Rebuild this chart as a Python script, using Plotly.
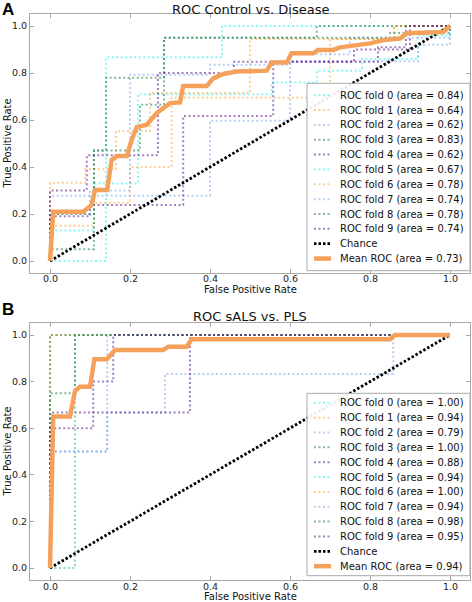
import plotly.graph_objects as go

# ---------------- data: panel A (ROC Control vs. Disease) ----------------
a_fold0_fpr = [0, 0, 0.11, 0.11, 0.14, 0.14, 0.43, 0.43, 1.0]
a_fold0_tpr = [0, 0.13, 0.13, 0.33, 0.33, 0.867, 0.867, 1.0, 1.0]
a_fold1_fpr = [0, 0, 0.11, 0.11, 0.2, 0.2, 0.304, 0.304, 0.7, 0.7, 0.86, 0.86, 1.0]
a_fold1_tpr = [0, 0.15, 0.15, 0.248, 0.248, 0.4, 0.4, 0.695, 0.695, 0.945, 0.945, 1.0, 1.0]
a_fold2_fpr = [0, 0, 0.4, 0.4, 0.6, 0.6, 0.92, 0.92, 1.0, 1.0]
a_fold2_tpr = [0, 0.278, 0.278, 0.597, 0.597, 0.85, 0.85, 0.92, 0.92, 1.0]
a_fold3_fpr = [0, 0, 0.11, 0.11, 0.14, 0.14, 0.285, 0.285, 0.667, 0.667, 1.0]
a_fold3_tpr = [0, 0.05, 0.05, 0.47, 0.47, 0.78, 0.78, 0.95, 0.95, 1.0, 1.0]
a_fold4_fpr = [0, 0, 0.1, 0.1, 0.333, 0.333, 0.558, 0.558, 0.82, 0.82, 0.89, 0.89, 1.0]
a_fold4_tpr = [0, 0.19, 0.19, 0.238, 0.238, 0.617, 0.617, 0.848, 0.848, 0.91, 0.91, 1.0, 1.0]
a_fold5_fpr = [0, 0.14, 0.14, 0.22, 0.22, 0.554, 0.554, 0.667, 0.667, 0.78, 0.78, 0.92, 0.92, 1.0, 1.0]
a_fold5_tpr = [0, 0, 0.33, 0.33, 0.71, 0.71, 0.76, 0.76, 0.81, 0.81, 0.86, 0.86, 0.96, 0.96, 1.0]
a_fold6_fpr = [0, 0, 0.0875, 0.0875, 0.165, 0.165, 0.25, 0.25, 0.5, 0.5, 0.86, 0.86, 1.0]
a_fold6_tpr = [0, 0.333, 0.333, 0.39, 0.39, 0.553, 0.553, 0.715, 0.715, 0.945, 0.945, 1.0, 1.0]
a_fold7_fpr = [0, 0, 0.1, 0.1, 0.2, 0.2, 0.4, 0.4, 0.6, 0.6, 0.75, 0.75, 1.0, 1.0]
a_fold7_tpr = [0, 0.2, 0.2, 0.3, 0.3, 0.793, 0.793, 0.835, 0.835, 0.88, 0.88, 0.95, 0.95, 1.0]
a_fold8_fpr = [0, 0, 0.11, 0.11, 0.225, 0.225, 0.285, 0.285, 0.85, 0.85, 1.0, 1.0]
a_fold8_tpr = [0, 0.2, 0.2, 0.47, 0.47, 0.665, 0.665, 0.95, 0.95, 0.97, 0.97, 1.0]
a_fold9_fpr = [0, 0, 0.092, 0.092, 0.27, 0.27, 0.46, 0.46, 0.76, 0.76, 0.9, 0.9, 1.0]
a_fold9_tpr = [0, 0.3, 0.3, 0.45, 0.45, 0.8, 0.8, 0.848, 0.848, 0.9, 0.9, 1.0, 1.0]
a_auc = [0.84, 0.64, 0.62, 0.83, 0.62, 0.67, 0.78, 0.74, 0.78, 0.74]
a_mean_auc = 0.73
a_mean_fpr = [0, 0.008, 0.083, 0.104, 0.1125, 0.143, 0.154, 0.167, 0.192, 0.204,
              0.217, 0.242, 0.267, 0.3, 0.325, 0.333, 0.392, 0.408, 0.433, 0.467,
              0.542, 0.554, 0.592, 0.604, 0.658, 0.67, 0.708, 0.725, 0.8, 0.833,
              0.875, 0.892, 0.983, 1.0]
a_mean_tpr = [0, 0.21, 0.21, 0.238, 0.302, 0.302, 0.43, 0.447, 0.447, 0.515,
              0.57, 0.58, 0.63, 0.672, 0.675, 0.745, 0.745, 0.777, 0.796, 0.806,
              0.81, 0.845, 0.845, 0.884, 0.884, 0.898, 0.898, 0.909, 0.926, 0.94,
              0.947, 0.969, 0.974, 1.0]

# ---------------- data: panel B (ROC sALS vs. PLS) ----------------
b_fold0_fpr = [0, 0, 1.0]
b_fold0_tpr = [0, 1.0, 1.0]
b_fold1_fpr = [0, 0.0625, 0.0625, 1.0]
b_fold1_tpr = [0, 0, 1.0, 1.0]
b_fold2_fpr = [0, 0, 0.143, 0.143, 0.2875, 0.2875, 0.858, 0.858, 1.0]
b_fold2_tpr = [0, 0.5, 0.5, 0.667, 0.667, 0.833, 0.833, 1.0, 1.0]
b_fold3_fpr = [0, 0, 1.0]
b_fold3_tpr = [0, 1.0, 1.0]
b_fold4_fpr = [0, 0, 0.35, 0.35, 1.0]
b_fold4_tpr = [0, 0.667, 0.667, 1.0, 1.0]
b_fold5_fpr = [0, 0.0625, 0.0625, 1.0]
b_fold5_tpr = [0, 0, 1.0, 1.0]
b_fold6_fpr = [0, 0, 1.0]
b_fold6_tpr = [0, 1.0, 1.0]
b_fold7_fpr = [0, 0, 0.143, 0.143, 1.0]
b_fold7_tpr = [0, 0.5, 0.5, 1.0, 1.0]
b_fold8_fpr = [0, 0, 0.0625, 0.0625, 1.0]
b_fold8_tpr = [0, 0.75, 0.75, 1.0, 1.0]
b_fold9_fpr = [0, 0, 0.108, 0.108, 0.158, 0.158, 1.0]
b_fold9_tpr = [0, 0.6, 0.6, 0.8, 0.8, 1.0, 1.0]
b_auc = [1.00, 0.94, 0.79, 1.00, 0.88, 0.94, 1.00, 0.94, 0.98, 0.95]
b_mean_auc = 0.94
b_mean_fpr = [0, 0.008, 0.05, 0.0625, 0.075, 0.1, 0.111, 0.142, 0.1625, 0.283,
              0.296, 0.342, 0.354, 0.85, 0.8625, 1.0]
b_mean_tpr = [0, 0.65, 0.65, 0.76, 0.778, 0.778, 0.896, 0.896, 0.936, 0.936,
              0.95, 0.95, 0.982, 0.982, 1.0, 1.0]

chance_x = [0, 1]
chance_y = [0, 1]
tick_vals = [0.0, 0.2, 0.4, 0.6, 0.8, 1.0]
tick_text = ["0.0", "0.2", "0.4", "0.6", "0.8", "1.0"]
titles = ["ROC Control vs. Disease", "ROC sALS vs. PLS"]
panel_letters = ["A", "B"]

# ---------------- styling ----------------
fold_colors = ["rgba(0,235,235,0.45)", "rgba(255,140,0,0.42)", "rgba(100,149,237,0.45)",
               "rgba(46,139,87,0.6)", "rgba(75,0,130,0.5)"]
mean_color = "#F5A05B"
FONT = "DejaVu Sans"
W, H = 472, 602


def px(x):
    return x / W


def py(y):
    return 1 - y / H


a_folds = [(a_fold0_fpr, a_fold0_tpr), (a_fold1_fpr, a_fold1_tpr), (a_fold2_fpr, a_fold2_tpr),
           (a_fold3_fpr, a_fold3_tpr), (a_fold4_fpr, a_fold4_tpr), (a_fold5_fpr, a_fold5_tpr),
           (a_fold6_fpr, a_fold6_tpr), (a_fold7_fpr, a_fold7_tpr), (a_fold8_fpr, a_fold8_tpr),
           (a_fold9_fpr, a_fold9_tpr)]
b_folds = [(b_fold0_fpr, b_fold0_tpr), (b_fold1_fpr, b_fold1_tpr), (b_fold2_fpr, b_fold2_tpr),
           (b_fold3_fpr, b_fold3_tpr), (b_fold4_fpr, b_fold4_tpr), (b_fold5_fpr, b_fold5_tpr),
           (b_fold6_fpr, b_fold6_tpr), (b_fold7_fpr, b_fold7_tpr), (b_fold8_fpr, b_fold8_tpr),
           (b_fold9_fpr, b_fold9_tpr)]

fig = go.Figure()

panels = [
    dict(folds=a_folds, auc=a_auc, mfpr=a_mean_fpr, mtpr=a_mean_tpr, mauc=a_mean_auc,
         xa="x", ya="y", top=14.25, bottom=272.75, leg_top=83.3, leg_bot=270.7, row0=95.2,
         title_y=10, xlabel_y=289, xtick_y=278.5, letter_y=10),
    dict(folds=b_folds, auc=b_auc, mfpr=b_mean_fpr, mtpr=b_mean_tpr, mauc=b_mean_auc,
         xa="x2", ya="y2", top=323.35, bottom=579.65, leg_top=393.3, leg_bot=575.7, row0=402.8,
         title_y=317, xlabel_y=596.5, xtick_y=586, letter_y=309),
]

shapes = []
annotations = []
ROW = 14.85

for pi, p in enumerate(panels):
    for i, (f, t) in enumerate(p["folds"]):
        fig.add_trace(go.Scatter(x=f, y=t, mode="lines", xaxis=p["xa"], yaxis=p["ya"],
                                 line=dict(color=fold_colors[i % 5], width=2, dash="2px,2.5px"),
                                 name="ROC fold %d (area = %.2f)" % (i, p["auc"][i]),
                                 showlegend=False, hoverinfo="skip"))
    fig.add_trace(go.Scatter(x=chance_x, y=chance_y, mode="lines", xaxis=p["xa"], yaxis=p["ya"],
                             line=dict(color="black", width=2.8, dash="2.5px,2px"),
                             name="Chance", showlegend=False, hoverinfo="skip"))
    fig.add_trace(go.Scatter(x=p["mfpr"], y=p["mtpr"], mode="lines", xaxis=p["xa"], yaxis=p["ya"],
                             line=dict(color=mean_color, width=4.5),
                             name="Mean ROC (area = %.2f)" % p["mauc"], showlegend=False,
                             hoverinfo="skip"))

    # x tick labels (placed through the x axis scale, tight under the frame)
    for v, s in zip(tick_vals, tick_text):
        annotations.append(dict(text=s, xref=p["xa"], yref="paper", x=v, y=py(p["xtick_y"]),
                                xanchor="center", yanchor="middle", showarrow=False,
                                font=dict(family=FONT, size=9.5, color="#222")))

    # legend box
    shapes.append(dict(type="rect", xref="paper", yref="paper", layer="above",
                       x0=px(307), x1=px(470), y0=py(p["leg_bot"]), y1=py(p["leg_top"]),
                       fillcolor="rgba(255,255,255,0.92)", line=dict(color="#a8a8a8", width=1)))
    labels = ["ROC fold %d (area = %.2f)" % (i, p["auc"][i]) for i in range(10)]
    labels += ["Chance", "Mean ROC (area = %.2f)" % p["mauc"]]
    for k, lab in enumerate(labels):
        yy = p["row0"] + k * ROW
        if k < 10:
            ln = dict(color=fold_colors[k % 5], width=2, dash="2px,2.5px")
        elif k == 10:
            ln = dict(color="black", width=2.8, dash="2.5px,2px")
        else:
            ln = dict(color=mean_color, width=4.5)
        shapes.append(dict(type="line", xref="paper", yref="paper", layer="above",
                           x0=px(314), x1=px(331), y0=py(yy), y1=py(yy), line=ln))
        annotations.append(dict(text=lab, xref="paper", yref="paper", x=px(338), y=py(yy),
                                xanchor="left", yanchor="middle", showarrow=False,
                                font=dict(family=FONT, size=10, color="#111")))

    # title, axis labels, panel letter
    annotations.append(dict(text=titles[pi], xref="paper", yref="paper", x=px(250),
                            y=py(p["title_y"]), xanchor="center", yanchor="middle",
                            showarrow=False, font=dict(family=FONT, size=13, color="#111")))
    annotations.append(dict(text="False Positive Rate", xref="paper", yref="paper", x=px(250),
                            y=py(p["xlabel_y"]), xanchor="center", yanchor="middle",
                            showarrow=False, font=dict(family=FONT, size=10, color="#111")))
    annotations.append(dict(text="True Positive Rate", xref="paper", yref="paper", x=px(7),
                            y=py((p["top"] + p["bottom"]) / 2), xanchor="center", yanchor="middle",
                            textangle=-90, showarrow=False,
                            font=dict(family=FONT, size=10, color="#111")))
    annotations.append(dict(text="<b>%s</b>" % panel_letters[pi], xref="paper", yref="paper",
                            x=px(0), y=py(p["letter_y"]), xanchor="left", yanchor="middle",
                            showarrow=False,
                            font=dict(family="Liberation Sans", size=17, color="black")))

axis_common = dict(range=[-0.05, 1.05], showgrid=False, zeroline=False, showline=True,
                   linecolor="#a8a8a8", linewidth=1, mirror="ticks", ticks="inside",
                   ticklen=4, tickcolor="#a8a8a8", tickvals=tick_vals, ticktext=tick_text,
                   tickfont=dict(family=FONT, size=9.5, color="#222"))

xdom = [px(30), px(470)]
fig.update_layout(
    width=W, height=H, margin=dict(l=0, r=0, t=0, b=0),
    paper_bgcolor="white", plot_bgcolor="white", showlegend=False,
    xaxis=dict(domain=xdom, anchor="y", showticklabels=False, **axis_common),
    yaxis=dict(domain=[py(panels[0]["bottom"]), py(panels[0]["top"])], anchor="x", **axis_common),
    xaxis2=dict(domain=xdom, anchor="y2", showticklabels=False, **axis_common),
    yaxis2=dict(domain=[py(panels[1]["bottom"]), py(panels[1]["top"])], anchor="x2", **axis_common),
    shapes=shapes, annotations=annotations,
)

fig.write_html("out.html", config={"displayModeBar": False},
               post_script="document.body.style.margin='0px';document.body.style.overflow='hidden';")
